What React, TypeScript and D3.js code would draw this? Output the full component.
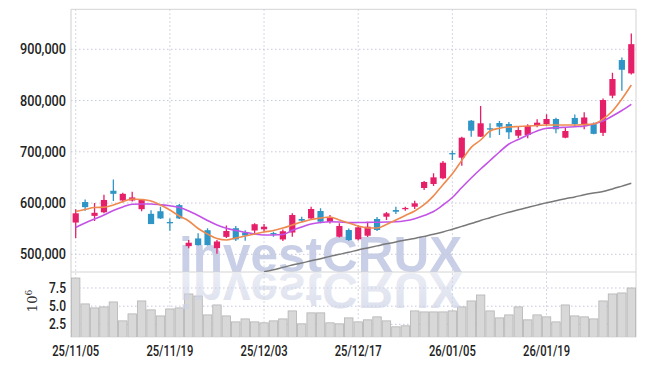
import React from 'react';
import * as d3 from 'd3';

// trading days (yy/mm/dd)
const dates = [
  '25/11/05', '25/11/06', '25/11/07', '25/11/10', '25/11/11', '25/11/12', '25/11/13', '25/11/14', '25/11/17', '25/11/18',
  '25/11/19', '25/11/20', '25/11/21', '25/11/24', '25/11/25', '25/11/26', '25/11/27', '25/11/28', '25/12/01', '25/12/02',
  '25/12/03', '25/12/04', '25/12/05', '25/12/08', '25/12/09', '25/12/10', '25/12/11', '25/12/12', '25/12/15', '25/12/16',
  '25/12/17', '25/12/18', '25/12/19', '25/12/22', '25/12/23', '25/12/24', '25/12/26', '25/12/29', '25/12/30', '26/01/02',
  '26/01/05', '26/01/06', '26/01/07', '26/01/08', '26/01/09', '26/01/12', '26/01/13', '26/01/14', '26/01/15', '26/01/16',
  '26/01/19', '26/01/20', '26/01/21', '26/01/22', '26/01/23', '26/01/26', '26/01/27', '26/01/28', '26/01/29', '26/01/30',
];
const dateTicks = ['25/11/05', '25/11/19', '25/12/03', '25/12/17', '26/01/05', '26/01/19'];

// prices in thousands of won
const open = [
  562, 602, 575, 582, 624, 605, 605, 588, 579, 584,
  563, 596, 516, 531, 547, 512, 534, 551, 542.5, 546.4,
  548.8, 541.5, 529, 542.5, 568.9, 570, 584.5, 563, 534.3, 547.4,
  529.3, 536.3, 568.9, 573.4, 586.4, 589, 592.9, 629.4, 637.2, 648.3,
  697.5, 688.5, 760.7, 729.5, 745.9, 756.2, 754.2, 731.4, 732.8, 750.9,
  754.2, 764, 727.5, 766, 754, 754, 737, 809.5, 879, 853,
];
const high = [
  588, 607, 600, 616, 646, 620, 622, 607, 586, 593,
  570, 598, 528, 541, 551, 528, 556, 555, 547, 560.5,
  559, 544, 548.4, 580, 573.4, 593, 589.8, 576.7, 560.5, 550.3,
  557, 563.6, 572.8, 582.5, 592.9, 592.9, 604.6, 643, 658, 682,
  702, 729.5, 762, 789.4, 755.6, 760.1, 758, 749, 753.7, 763.4,
  773.2, 766.5, 747, 773, 777, 757, 804, 854, 884, 931,
];
const low = [
  532, 585, 565, 580, 604, 601, 603, 584, 559, 569,
  546, 569, 512, 517, 517, 501, 532, 526, 526.5, 537.7,
  544, 534.3, 526, 534.3, 563, 568, 560.5, 560, 532.8, 526,
  527, 533.8, 545.5, 567, 578.6, 585, 588.4, 625.5, 633.3, 646.3,
  684, 673, 729.5, 728.9, 727.5, 732.8, 725, 726.3, 726.3, 747.8,
  750.9, 736, 726.3, 750, 744, 734, 731, 804.4, 819, 851,
];
const close = [
  580, 592, 581, 606, 618, 618, 611, 606, 559, 570,
  561, 570, 522.6, 518, 518, 525, 545.5, 529, 536.7, 558.7,
  553.9, 540.5, 545, 576.7, 565.6, 588.4, 563.6, 570.8, 555.2, 527.9,
  552.7, 553.9, 547.4, 580, 583.1, 590.5, 599.5, 641.1, 650.2, 678.7,
  696.5, 727.5, 741.2, 755.6, 743.9, 749, 738, 742.5, 750.3, 756.8,
  764, 744, 740.6, 754, 767, 735, 801, 842, 860, 910,
];

// moving averages (thousands)
const ma5 = [
  583.5, 587.4, 591.3, 591.7, 596.2, 603, 607.9, 606.9, 604, 596.2,
  586.4, 574.7, 565, 550.3, 539.6, 530.8, 527.9, 531.8, 535.7, 539.6,
  543.5, 546.4, 551.3, 557.2, 563, 567.9, 570.8, 572.8, 566.9, 561.1,
  555.2, 551.3, 551.3, 558.1, 566.9, 575.7, 584.5, 596.8, 614.1, 635.8,
  657.1, 683.2, 708.6, 723, 740.6, 745.9, 748.4, 749.4, 750.3, 751.3,
  752.3, 752.3, 752.3, 752.3, 753.3, 754.2, 764, 779.6, 803, 830.3,
];
const ma10 = [
  552.3, 561.1, 568.9, 576.7, 585.5, 592.3, 597.6, 598.1, 598.1, 596.6,
  594.6, 591.3, 584.5, 575.7, 566, 557.2, 550.7, 546.4, 542.9, 539.6,
  537.7, 537.7, 538.6, 546.8, 553.3, 559.1, 562, 563.4, 563, 561.9,
  562, 562.4, 562.6, 563, 563.4, 565.4, 569.5, 575.7, 583.5, 596.2,
  610.8, 630.3, 648.9, 666.4, 683, 699.6, 715.2, 724, 732.8, 740.6,
  745.9, 747, 748, 749, 750, 754.2, 760.1, 769.9, 780.6, 792.7,
];
const ma60 = [
  null, null, null, null, null, null, null, null, null, null,
  null, null, null, null, null, null, null, null, null, null,
  466, 470, 474.5, 479, 483, 487.5, 491.5, 496, 500, 504,
  508.5, 512.5, 516.5, 520.5, 524, 528, 531, 535, 539, 543.5,
  549, 554.5, 560, 566, 571.5, 577, 582, 587, 591.5, 596,
  600.5, 604.5, 608.5, 612, 616, 619.5, 622.5, 627.5, 633, 638.5,
];

// volume, millions of shares
const volume = [
  8.87, 5.31, 4.76, 4.9, 5.58, 2.98, 3.94, 5.72, 4.49, 3.66,
  4.62, 4.76, 6.68, 6.4, 3.8, 5.17, 3.66, 2.84, 3.25, 2.84,
  2.71, 2.98, 3.25, 4.35, 2.57, 4.08, 4.08, 2.71, 2.57, 3.39,
  2.84, 3.12, 3.53, 2.98, 2.16, 2.3, 4.35, 4.21, 4.21, 4.21,
  4.35, 4.9, 5.72, 6.54, 4.35, 3.39, 3.8, 4.9, 3.12, 3.8,
  3.53, 2.84, 5.17, 3.66, 3.53, 3.25, 5.72, 6.68, 6.82, 7.5,
];

const priceTicks = [500000, 600000, 700000, 800000, 900000];
const volumeTicks = [2.5, 5.0, 7.5];

const UP = '#e61f69';
const DOWN = '#2f95c6';
const GRID = '#c5c9dd';
const labelFont = "'Roboto', 'Liberation Sans', sans-serif";

const App = () => {
  const W = 645;
  const H = 366;
  const left = 71, right = 636, top = 9.3, mid = 272, bottom = 337.3;

  const x = d3.scaleBand().domain(dates).range([left, right]).padding(0);
  const step = x.step();
  const cx = (i: number) => (x(dates[i]) as number) + step / 2;
  const y = d3.scaleLinear().domain([465.5, 978]).range([mid, top]);
  const yv = d3.scaleLinear().domain([0.72, 9.7]).range([bottom, mid]);
  const fmt = d3.format(',');
  const bodyW = 6.2;

  const lineOf = (vals: (number | null)[]) =>
    d3
      .line<number | null>()
      .defined((d) => d != null)
      .x((_, i) => cx(i))
      .y((d) => y(d as number))
      .curve(d3.curveMonotoneX)(vals) || '';

  // condensed look: squeeze the label glyphs to the reference width
  const label = (key: string, tx: number, ty: number, txt: string, anchor: string, len: number) => (
    <text
      key={key}
      x={tx}
      y={ty}
      textAnchor={anchor}
      fontFamily={labelFont}
      fontWeight={500}
      fontSize={14.5}
      fill="#222"
      textLength={len}
      lengthAdjust="spacingAndGlyphs"
    >
      {txt}
    </text>
  );

  return (
    <div style={{ position: 'absolute', left: 0, top: 0 }}>
      <svg width={W} height={H} style={{ display: 'block', background: '#fff' }}>
        <defs>
          <clipPath id="main-clip">
            <rect x={left} y={top} width={right - left} height={mid - top} />
          </clipPath>
          <clipPath id="vol-clip">
            <rect x={left} y={mid} width={right - left} height={bottom - mid} />
          </clipPath>
          <linearGradient id="refl" x1="0" y1="0" x2="0" y2="1">
            <stop offset="0" stopColor="#cdd3e6" stopOpacity={0.75} />
            <stop offset="1" stopColor="#cdd3e6" stopOpacity={0.35} />
          </linearGradient>
        </defs>

        {/* watermark */}
        <text
          x={179}
          y={271.5}
          fontFamily="'Liberation Sans', Arial, sans-serif"
          fontWeight="bold"
          fontSize={49.5}
          fill="#c8cfe6"
          clipPath="url(#main-clip)"
        >
          investCRUX
        </text>

        {/* grid */}
        {priceTicks.map((t) => (
          <line key={'pg' + t} x1={left} x2={right} y1={y(t / 1000)} y2={y(t / 1000)} stroke={GRID} strokeDasharray="1.5,2.5" />
        ))}
        {volumeTicks.map((t) => (
          <line key={'vg' + t} x1={left} x2={right} y1={yv(t)} y2={yv(t)} stroke={GRID} strokeDasharray="1.5,2.5" />
        ))}
        {dateTicks.map((d) => {
          const xx = (x(d) as number) + step / 2;
          return <line key={'xg' + d} x1={xx} x2={xx} y1={top} y2={bottom} stroke={GRID} strokeDasharray="1.5,2.5" />;
        })}

        {/* frame */}
        <line x1={left} x2={right} y1={top} y2={top} stroke="#d4d4d4" />
        <line x1={left} x2={left} y1={top} y2={bottom} stroke="#cfcfcf" />
        <line x1={right} x2={right} y1={top} y2={bottom} stroke="#d4d4d4" />
        <line x1={left} x2={right} y1={mid} y2={mid} stroke="#d4d4d4" strokeWidth={1.2} />

        {/* volume */}
        <g clipPath="url(#vol-clip)">
          {volume.map((v, i) => (
            <rect
              key={'v' + i}
              x={(x(dates[i]) as number) + 0.5}
              y={yv(v)}
              width={step - 1}
              height={bottom - yv(v)}
              fill="#d8d8d8"
              stroke="#b3b3b3"
              strokeWidth={0.8}
            />
          ))}
          <g transform={`translate(0, ${2 * mid}) scale(1,-1)`}>
            <text
              x={179}
              y={271.5}
              fontFamily="'Liberation Sans', Arial, sans-serif"
              fontWeight="bold"
              fontSize={49.5}
              fill="url(#refl)"
            >
              investCRUX
            </text>
          </g>
        </g>

        {/* candles */}
        <g clipPath="url(#main-clip)">
          {dates.map((d, i) => {
            const c = close[i] >= open[i] ? UP : DOWN;
            const yTop = y(Math.max(open[i], close[i]));
            const yBot = y(Math.min(open[i], close[i]));
            return (
              <g key={'c' + i}>
                <line x1={cx(i)} x2={cx(i)} y1={y(high[i])} y2={y(low[i])} stroke={c} strokeWidth={1.3} />
                <rect
                  x={cx(i) - bodyW / 2}
                  y={yTop}
                  width={bodyW}
                  height={Math.max(1.3, yBot - yTop)}
                  fill={c}
                />
              </g>
            );
          })}
          <path d={lineOf(ma60)} fill="none" stroke="#787878" strokeWidth={1.5} />
          <path d={lineOf(ma10)} fill="none" stroke="#c353e6" strokeWidth={1.6} />
          <path d={lineOf(ma5)} fill="none" stroke="#ef8a4f" strokeWidth={1.6} />
        </g>

        {/* price axis labels */}
        {priceTicks.map((t) => label('pl' + t, 66, y(t / 1000) + 5, fmt(t), 'end', 46))}

        {/* volume axis labels */}
        {volumeTicks.map((t) => label('vl' + t, 66, yv(t) + 5, t.toFixed(1), 'end', 17))}
        <text
          transform="translate(37, 301) rotate(-90)"
          textAnchor="middle"
          fontFamily="'DejaVu Serif', serif"
          fontSize={13}
          fill="#333"
        >
          10
          <tspan dy={-5} fontSize={9}>
            6
          </tspan>
        </text>

        {/* date labels */}
        {dateTicks.map((d) => label('dl' + d, (x(d) as number) + step / 2, 356, d, 'middle', 47))}
      </svg>
    </div>
  );
};

export default App;
